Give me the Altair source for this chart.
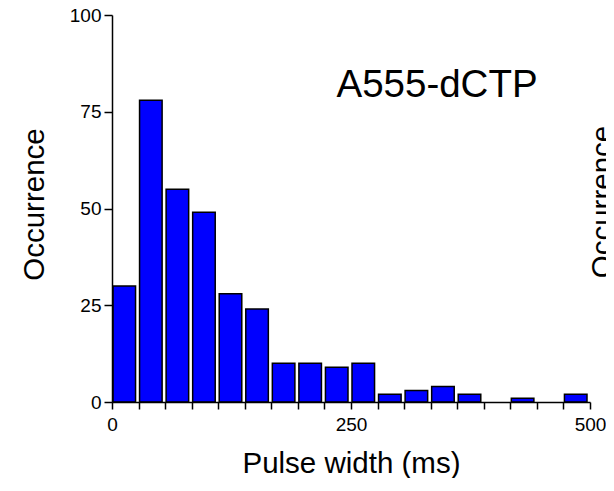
import altair as alt
import pandas as pd

# Histogram of pulse widths (18 bins spanning 0-500 ms)
counts = [30, 78, 55, 49, 28, 24, 10, 10, 9, 10, 2, 3, 4, 2, 0, 1, 0, 2]
n_bins = 18
x_max = 500
y_ticks = [0, 25, 50, 75, 100]
x_label_values = [0, 250, 500]
panel_label = "A555-dCTP"
x_title = "Pulse width (ms)"
y_title = "Occurrence"

starts = [i * x_max / n_bins for i in range(n_bins)]
ends = [(i + 1) * x_max / n_bins for i in range(n_bins)]
df = pd.DataFrame({"start": starts, "end": ends, "count": counts, "base": [0] * n_bins})
df = df[df["count"] > 0]

x_ticks = [round(i * x_max / n_bins, 4) for i in range(n_bins + 1)]

FONT = "Liberation Sans"

x_scale = alt.Scale(domain=[0, x_max], nice=False, zero=False, padding=0)
y_scale = alt.Scale(domain=[0, 100], nice=False, padding=0)

label_test = " || ".join(f"abs(datum.value - {v}) < 0.01" for v in x_label_values)

bars = alt.Chart(df).mark_bar(
    color="#0000FF", stroke="#000000", strokeWidth=1.5, xOffset=1, x2Offset=-3
).encode(
    x=alt.X(
        "start:Q",
        scale=x_scale,
        axis=alt.Axis(
            values=x_ticks,
            tickCount=100,
            labelExpr=f"({label_test}) ? format(round(datum.value), 'd') : ''",
            labelOverlap=False,
            labelFlush=False,
            labelBound=False,
            grid=False,
            tickSize=7,
            labelPadding=6,
            labelFontSize=19,
            labelFont=FONT,
            labelColor="#000000",
            domainColor="#000000",
            tickColor="#000000",
            domainWidth=1.5,
            tickWidth=1.5,
            title=x_title,
            titleFont=FONT,
            titleFontSize=29.5,
            titleFontWeight="normal",
            titleColor="#000000",
            titleBaseline="alphabetic",
            titleY=70,
            zindex=1,
        ),
    ),
    x2="end:Q",
    y=alt.Y(
        "count:Q",
        scale=y_scale,
        axis=alt.Axis(
            values=y_ticks,
            tickCount=100,
            grid=False,
            tickSize=8,
            labelPadding=3,
            labelFontSize=19,
            labelFont=FONT,
            labelColor="#000000",
            domainColor="#000000",
            tickColor="#000000",
            domainWidth=1.5,
            tickWidth=1.5,
            title=y_title,
            titleFont=FONT,
            titleFontSize=29.5,
            titleFontWeight="normal",
            titleColor="#000000",
            titleAngle=270,
            titleAlign="center",
            titleBaseline="alphabetic",
            titleX=-69,
            titleY=189,
            zindex=1,
        ),
    ),
    y2="base:Q",
)

label = alt.Chart(pd.DataFrame({"t": [panel_label]})).mark_text(
    font=FONT, fontSize=38.5, align="center", baseline="alphabetic", color="#000000"
).encode(
    x=alt.datum(340, type="quantitative"),
    y=alt.datum(78.9, type="quantitative"),
    text="t:N",
)

# y-axis title of the neighbouring panel, cut off at the right edge
next_title = alt.Chart(pd.DataFrame({"t": [y_title]})).mark_text(
    font=FONT, fontSize=29.5, align="center", baseline="alphabetic",
    angle=270, color="#000000"
).encode(
    x=alt.value(500),
    y=alt.value(187),
    text="t:N",
)

chart = alt.layer(bars, label, next_title).properties(
    width=478,
    height=387,
    padding={"left": 104, "top": 7, "right": 16, "bottom": 76},
    autosize=alt.AutoSizeParams(type="none"),
).configure_view(strokeWidth=0)

chart.save("out.html", embed_options={"renderer": "svg", "actions": False})
